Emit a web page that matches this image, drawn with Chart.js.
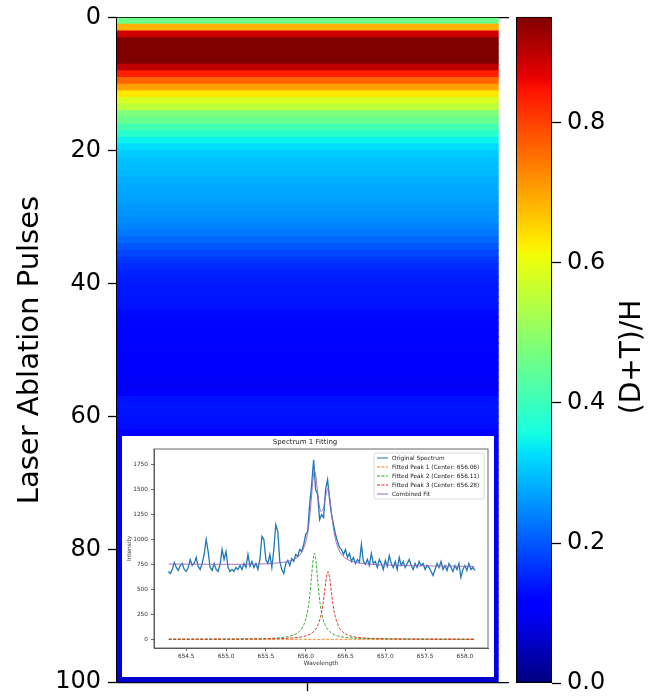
<!DOCTYPE html>
<html>
<head>
<meta charset="utf-8">
<script src="https://cdn.jsdelivr.net/npm/chart.js@4/dist/chart.umd.min.js"></script>
<style>
  html, body { margin: 0; padding: 0; background: #fff; }
  #wrap { position: relative; width: 648px; height: 700px; overflow: hidden; background: #fff; }
  #main { position: absolute; left: 0; top: 0; }
  #cbar { position: absolute; left: 500px; top: 0; }
  #inset { position: absolute; left: 122px; top: 436px; background: #fff; filter: blur(0.45px); }
</style>
</head>
<body>
<div id="wrap">
  <canvas id="main" width="648" height="700" style="width:648px;height:700px"></canvas>
  <canvas id="cbar" width="148" height="700" style="width:148px;height:700px"></canvas>
  <canvas id="inset" width="372" height="241" style="width:372px;height:241px"></canvas>
</div>
<script>
// (D+T)/H ratio for each laser ablation pulse (row 0 = first pulse)
const ratioPerPulse = [
  0.460, 0.685, 0.885, 0.951, 0.951, 0.951, 0.951, 0.900, 0.835, 0.765,
  0.705, 0.635, 0.580, 0.550, 0.475, 0.455, 0.413, 0.380, 0.345, 0.325,
  0.310, 0.300, 0.295, 0.290, 0.283, 0.278, 0.274, 0.270, 0.262, 0.257,
  0.250, 0.240, 0.230, 0.215, 0.200, 0.185, 0.170, 0.158, 0.150, 0.145,
  0.140, 0.140, 0.138, 0.136, 0.128, 0.125, 0.124, 0.122, 0.122, 0.120,
  0.120, 0.118, 0.116, 0.110, 0.100, 0.098, 0.102, 0.135, 0.138, 0.136,
  0.134, 0.130, 0.118, 0.116, 0.112, 0.110, 0.108, 0.106, 0.105, 0.104,
  0.104, 0.103, 0.102, 0.102, 0.101, 0.100, 0.100, 0.099, 0.099, 0.098,
  0.098, 0.098, 0.097, 0.097, 0.097, 0.096, 0.096, 0.096, 0.095, 0.095,
  0.095, 0.094, 0.094, 0.093, 0.092, 0.091, 0.090, 0.088, 0.082, 0.065
];
const pulseTicks = [0, 20, 40, 60, 80, 100];
const ratioMax = 0.951;
const ratioTicks = [0.0, 0.2, 0.4, 0.6, 0.8];

// Spectrum 1: measured H-alpha region
const specWave = [
  654.275, 654.300, 654.325, 654.350, 654.375, 654.400, 654.425, 654.450, 654.475, 654.500,
  654.525, 654.550, 654.575, 654.600, 654.625, 654.650, 654.675, 654.700, 654.725, 654.750,
  654.775, 654.800, 654.825, 654.850, 654.875, 654.900, 654.925, 654.950, 654.975, 655.000,
  655.025, 655.050, 655.075, 655.100, 655.125, 655.150, 655.175, 655.200, 655.225, 655.250,
  655.275, 655.300, 655.325, 655.350, 655.375, 655.400, 655.425, 655.450, 655.475, 655.500,
  655.525, 655.550, 655.575, 655.600, 655.625, 655.650, 655.675, 655.700, 655.725, 655.750,
  655.775, 655.800, 655.825, 655.850, 655.875, 655.900, 655.925, 655.950, 655.975, 656.000,
  656.025, 656.050, 656.075, 656.100, 656.125, 656.150, 656.175, 656.200, 656.225, 656.250,
  656.275, 656.300, 656.325, 656.350, 656.375, 656.400, 656.425, 656.450, 656.475, 656.500,
  656.525, 656.550, 656.575, 656.600, 656.625, 656.650, 656.675, 656.700, 656.725, 656.750,
  656.775, 656.800, 656.825, 656.850, 656.875, 656.900, 656.925, 656.950, 656.975, 657.000,
  657.025, 657.050, 657.075, 657.100, 657.125, 657.150, 657.175, 657.200, 657.225, 657.250,
  657.275, 657.300, 657.325, 657.350, 657.375, 657.400, 657.425, 657.450, 657.475, 657.500,
  657.525, 657.550, 657.575, 657.600, 657.625, 657.650, 657.675, 657.700, 657.725, 657.750,
  657.775, 657.800, 657.825, 657.850, 657.875, 657.900, 657.925, 657.950, 657.975, 658.000,
  658.025, 658.050, 658.075, 658.100, 658.125
];
const specIntensity = [
  680, 660, 700, 770, 720, 690, 740, 760, 700, 680,
  720, 800, 740, 760, 820, 730, 700, 760, 850, 1000,
  880, 720, 690, 760, 700, 680, 750, 900, 800, 880,
  720, 680, 700, 680, 720, 700, 740, 700, 760, 720,
  850, 730, 780, 720, 760, 700, 800, 1030, 1000, 800,
  760, 850, 720, 900, 1150, 1080, 780, 700, 660, 760,
  790, 740, 810, 780, 850, 830, 900, 880, 950, 1050,
  1080, 1350, 1550, 1800, 1500, 1450, 1200, 1250, 1220, 1500,
  1600, 1400, 1250, 1150, 1050, 980, 920, 900, 850, 900,
  820, 860, 780, 820, 760, 800, 770, 950, 780, 750,
  800, 740, 860, 760, 780, 720, 800, 760, 700, 790,
  730, 840, 760, 720, 780, 700, 820, 740, 780, 720,
  760, 800, 740, 700, 760, 720, 780, 740, 760, 700,
  740, 720, 680, 640, 700, 760, 720, 780, 700, 740,
  690, 760, 720, 680, 740, 700, 760, 620, 700, 740,
  690, 760, 700, 720, 690
];

// Fitted Lorentzian components and their sum
const peak1Wave = [654.28, 656.06, 658.12];
const peak1Value = [0, 0, 0];
const peak2Wave = [654.28, 654.8, 655.2, 655.5, 655.7, 655.8, 655.9, 655.95, 656.0, 656.03,
  656.05, 656.07, 656.09, 656.11, 656.13, 656.15, 656.17, 656.19, 656.22, 656.25,
  656.3, 656.4, 656.5, 656.7, 657.0, 657.5, 658.12];
const peak2Value = [1, 2, 4, 8, 18, 31, 65, 106, 198, 310,
  431, 597, 776, 862, 776, 597, 431, 310, 198, 134,
  78, 35, 20, 9, 4, 2, 1];
const peak3Wave = [654.28, 655.0, 655.5, 655.8, 656.0, 656.1, 656.15, 656.2, 656.23, 656.26,
  656.28, 656.30, 656.33, 656.36, 656.41, 656.46, 656.56, 656.76, 657.06, 657.56, 658.12];
const peak3Value = [1, 2, 5, 12, 35, 78, 136, 270, 426, 619,
  678, 619, 426, 270, 136, 78, 35, 12, 5, 2, 1];
const fitWave = [654.28, 654.8, 655.2, 655.5, 655.7, 655.8, 655.9, 655.95, 656.0, 656.03,
  656.05, 656.07, 656.09, 656.11, 656.13, 656.15, 656.17, 656.19, 656.22, 656.25,
  656.28, 656.30, 656.33, 656.36, 656.41, 656.46, 656.56, 656.76, 657.06, 657.56, 658.12];
const fitValue = [754, 752, 752, 757, 770, 786, 826, 873, 974, 1094,
  1222, 1397, 1588, 1689, 1624, 1473, 1347, 1282, 1304, 1433,
  1513, 1436, 1225, 1056, 908, 841, 787, 756, 743, 735, 730];
const waveTicks = [654.5, 655.0, 655.5, 656.0, 656.5, 657.0, 657.5, 658.0];
const intensityTicks = [0, 250, 500, 750, 1000, 1250, 1500, 1750];

const seriesNames = [
  'Original Spectrum',
  'Fitted Peak 1 (Center: 656.06)',
  'Fitted Peak 2 (Center: 656.11)',
  'Fitted Peak 3 (Center: 656.28)',
  'Combined Fit'
];

// ---------------------------------------------------------------------------
const FONT = "'DejaVu Sans', 'Liberation Sans', sans-serif";
Chart.defaults.font.family = FONT;

// jet colormap (piecewise linear)
function interp(t, xs, ys) {
  for (let k = 1; k < xs.length; k++) {
    if (t <= xs[k]) {
      const f = (t - xs[k - 1]) / (xs[k] - xs[k - 1]);
      return ys[k - 1] + f * (ys[k] - ys[k - 1]);
    }
  }
  return ys[ys.length - 1];
}
function jet(t) {
  t = Math.min(1, Math.max(0, t));
  const r = interp(t, [0, 0.35, 0.66, 0.89, 1], [0, 0, 1, 1, 0.5]);
  const g = interp(t, [0, 0.125, 0.375, 0.64, 0.91, 1], [0, 0, 1, 1, 0, 0]);
  const b = interp(t, [0, 0.11, 0.34, 0.65, 1], [0.5, 1, 1, 0, 0]);
  return `rgb(${Math.round(r * 255)},${Math.round(g * 255)},${Math.round(b * 255)})`;
}
const fixTicks = (list) => (s) => { s.ticks = list.map(v => ({ value: v })); };
const pairs = (xs, ys) => xs.map((x, i) => ({ x, y: ys[i] }));
const TICK_SIZE = 24;

// ---- heatmap: one horizontal band per pulse -------------------------------
new Chart(document.getElementById('main'), {
  type: 'bar',
  data: {
    datasets: [{
      data: ratioPerPulse.map((v, i) => ({ y: i + 0.5, x: [-0.5, 0.5] })),
      backgroundColor: ratioPerPulse.map(v => jet(v / ratioMax)),
      borderWidth: 0,
      barPercentage: 1,
      categoryPercentage: 1,
      inflateAmount: 0.6
    }]
  },
  options: {
    indexAxis: 'y',
    responsive: false,
    animation: false,
    events: [],
    layout: { padding: { left: 0, right: 140, top: 0, bottom: 0 } },
    plugins: { legend: { display: false }, tooltip: { enabled: false } },
    scales: {
      y: {
        type: 'linear', reverse: true, min: 0, max: 100, offset: false,
        afterFit(s) { s.width = 117; },
        afterBuildTicks: fixTicks(pulseTicks),
        ticks: { font: { size: TICK_SIZE, lineHeight: 0.9 }, color: '#000', padding: 7 },
        grid: { offset: false, drawOnChartArea: false, tickLength: 9, tickColor: '#000', tickWidth: 1.3 },
        border: { color: '#000', width: 1.3 },
        title: {
          display: true, text: 'Laser Ablation Pulses', color: '#000',
          font: { size: 29, lineHeight: 1.2 }, padding: { top: 13, bottom: 0 }
        }
      },
      x: {
        type: 'linear', position: 'bottom', min: -0.5, max: 0.526, offset: false,
        afterFit(s) { s.height = 12; },
        afterBuildTicks: fixTicks([0]),
        ticks: { display: false },
        grid: { offset: false, drawOnChartArea: false, tickLength: 9, tickColor: '#000', tickWidth: 1.3 },
        border: { color: '#000', width: 1.3 }
      },
      xTop: {
        type: 'linear', axis: 'x', position: 'top', display: true, min: -0.5, max: 0.526, offset: false,
        afterFit(s) { s.height = 14; },
        ticks: { display: false },
        grid: { display: false },
        border: { display: true, color: '#000', width: 1.3 }
      }
    }
  }
});

// ---- colorbar --------------------------------------------------------------
const cbarLabel = {
  id: 'cbarLabel',
  afterDraw(chart) {
    const ctx = chart.ctx;
    ctx.save();
    ctx.translate(133, 357);
    ctx.rotate(-Math.PI / 2);
    ctx.font = `28px ${FONT}`;
    ctx.fillStyle = '#000';
    ctx.textAlign = 'center';
    ctx.textBaseline = 'middle';
    ctx.fillText('(D+T)/H', 0, 0);
    ctx.restore();
  }
};
new Chart(document.getElementById('cbar'), {
  type: 'bar',
  data: {
    labels: [''],
    datasets: [{
      data: [[0, ratioMax]],
      backgroundColor(c) {
        const a = c.chart.chartArea;
        if (!a) return '#00f';
        const g = c.chart.ctx.createLinearGradient(0, a.bottom, 0, a.top);
        for (let k = 0; k <= 100; k++) g.addColorStop(k / 100, jet(k / 100));
        return g;
      },
      borderColor: '#000',
      borderWidth: 1.3,
      borderSkipped: false,
      barPercentage: 1,
      categoryPercentage: 1
    }]
  },
  options: {
    responsive: false,
    animation: false,
    events: [],
    layout: { padding: { left: 16, right: 0, top: 14, bottom: 12 } },
    plugins: { legend: { display: false }, tooltip: { enabled: false } },
    scales: {
      x: { display: false },
      y: {
        position: 'right', min: 0, max: ratioMax,
        afterFit(s) { s.width = 96; },
        afterBuildTicks: fixTicks(ratioTicks),
        ticks: { callback: v => v.toFixed(1), font: { size: TICK_SIZE, lineHeight: 0.9 }, color: '#000', padding: 6 },
        grid: { drawOnChartArea: false, tickLength: 9, tickColor: '#000', tickWidth: 1.3 },
        border: { display: false }
      }
    }
  },
  plugins: [cbarLabel]
});

// ---- inset: spectrum fitting -----------------------------------------------
const insetColors = ['#1f77b4', '#ff7f0e', '#2ca02c', '#d62728', '#9467bd'];
const insetDashed = [false, true, true, true, false];

const frame = {
  id: 'frame',
  afterDatasetsDraw(chart) {
    const { ctx, chartArea: a } = chart;
    ctx.save();
    ctx.strokeStyle = '#444';
    ctx.lineWidth = 0.8;
    ctx.strokeRect(a.left, a.top, a.right - a.left, a.bottom - a.top);
    ctx.restore();
  }
};
const insetLegend = {
  id: 'insetLegend',
  afterDraw(chart) {
    const ctx = chart.ctx;
    const a = chart.chartArea;
    const x0 = a.right - 114, y0 = a.top + 4, w = 110, h = 46;
    ctx.save();
    ctx.fillStyle = 'rgba(255,255,255,0.85)';
    ctx.strokeStyle = '#d0d0d0';
    ctx.lineWidth = 0.8;
    ctx.beginPath();
    ctx.roundRect(x0, y0, w, h, 2);
    ctx.fill();
    ctx.stroke();
    ctx.font = `5.8px ${FONT}`;
    ctx.textBaseline = 'middle';
    ctx.fillStyle = '#222';
    seriesNames.forEach((name, i) => {
      const y = y0 + 5 + i * 9;
      ctx.strokeStyle = insetColors[i];
      ctx.lineWidth = 1;
      ctx.setLineDash(insetDashed[i] ? [3, 1.5] : []);
      ctx.beginPath();
      ctx.moveTo(x0 + 3, y);
      ctx.lineTo(x0 + 14, y);
      ctx.stroke();
      ctx.setLineDash([]);
      ctx.fillText(name, x0 + 18, y);
    });
    ctx.restore();
  }
};

const seriesData = [
  pairs(specWave, specIntensity),
  pairs(peak1Wave, peak1Value),
  pairs(peak2Wave, peak2Value),
  pairs(peak3Wave, peak3Value),
  pairs(fitWave, fitValue)
];
const drawOrder = [4, 3, 2, 1, 0];

new Chart(document.getElementById('inset'), {
  type: 'line',
  data: {
    datasets: seriesData.map((d, i) => ({
      label: seriesNames[i],
      data: d,
      borderColor: insetColors[i],
      borderWidth: i === 0 ? 1.3 : 0.9,
      borderDash: insetDashed[i] ? [3, 1.5] : [],
      pointRadius: 0,
      fill: false,
      cubicInterpolationMode: i === 0 ? 'default' : 'monotone',
      order: drawOrder[i]
    }))
  },
  options: {
    responsive: false,
    animation: false,
    events: [],
    layout: { padding: { left: 0, right: 6, top: 0, bottom: 0 } },
    plugins: {
      legend: { display: false },
      tooltip: { enabled: false },
      title: {
        display: true, text: 'Spectrum 1 Fitting', color: '#222',
        font: { size: 7, weight: 'normal', lineHeight: 1.2 }, padding: { top: 2, bottom: 2.6 }
      }
    },
    scales: {
      x: {
        type: 'linear', min: 654.095, max: 658.29,
        afterFit(s) { s.height = 29; },
        afterBuildTicks: fixTicks(waveTicks),
        ticks: { callback: v => v.toFixed(1), font: { size: 5.8 }, color: '#333', padding: 2, maxRotation: 0, autoSkip: false },
        grid: { drawOnChartArea: false, tickLength: 3, tickColor: '#444', tickWidth: 0.8 },
        border: { color: '#444', width: 0.8 },
        title: { display: true, text: 'Wavelength', color: '#333', font: { size: 5.8, lineHeight: 1.2 }, padding: { top: 0, bottom: 10.5 } }
      },
      y: {
        type: 'linear', min: -87, max: 1907,
        afterFit(s) { s.width = 32; },
        afterBuildTicks: fixTicks(intensityTicks),
        ticks: { callback: v => String(v), font: { size: 5.8 }, color: '#333', padding: 3 },
        grid: { drawOnChartArea: false, tickLength: 3, tickColor: '#444', tickWidth: 0.8 },
        border: { color: '#444', width: 0.8 },
        title: { display: true, text: 'Intensity', color: '#333', font: { size: 5.8, lineHeight: 1.2 }, padding: { top: 4.5, bottom: 0 } }
      }
    }
  },
  plugins: [frame, insetLegend]
});
</script>
</body>
</html>
